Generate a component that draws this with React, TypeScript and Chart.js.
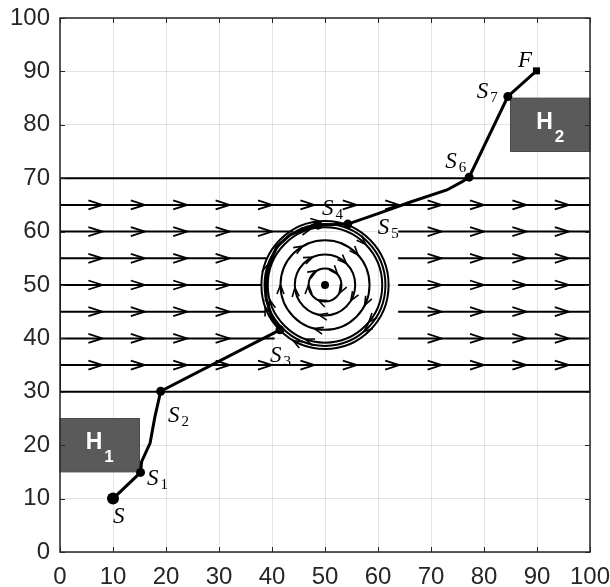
import React, { useEffect, useRef } from 'react';
import { Chart, registerables } from 'chart.js';

Chart.register(...registerables);

// ---------- data ----------
const xTickValues = [0, 10, 20, 30, 40, 50, 60, 70, 80, 90, 100];
const yTickValues = [0, 10, 20, 30, 40, 50, 60, 70, 80, 90, 100];

// trajectory
const pathX = [10, 15.2, 15.4, 17, 17.9, 19, 41.5, 39.9, 39.0, 38.9, 39.3, 40.9, 43.4, 46.5, 48.7, 54.3, 60.4, 66, 73, 75.8, 77.2, 84.5, 89.9];
const pathY = [10, 14.9, 16.9, 20.4, 25.3, 30.1, 41.6, 44.1, 47.2, 50, 53.4, 57.2, 59.4, 60.6, 61.2, 61.4, 63.5, 65.5, 67.8, 69.3, 70.2, 85.3, 90.1];

// waypoints
const waypointNames = ['S', 'S', 'S', 'S', 'S', 'S', 'S', 'S', 'F'];
const waypointSubs = ['', '1', '2', '3', '4', '5', '6', '7', ''];
const waypointX = [10, 15.2, 19, 41.5, 48.7, 54.3, 77.2, 84.5, 89.9];
const waypointY = [10, 14.9, 30.1, 41.6, 61.2, 61.4, 70.2, 85.3, 90.1];

// channel
const channelX = [0, 100, 100, 0, 0];
const channelY = [30, 30, 70, 70, 30];

// streamlines
const streamRowsY = [35, 40, 45, 50, 55, 60, 65];
const streamLeftEnd = [100, 40.5, 38.7, 38, 39, 44, 100];
const streamRightStart = [null, 63.8, 63.8, 63.8, 63.8, 63.8, null];
const streamArrowX = [8, 16, 24, 32, 40, 48, 56, 64, 72, 80, 88, 96];

// vortex
const vortexCenterX = [50];
const vortexCenterY = [50];
const vortexRadii = [3.1, 5.7, 8.4, 10.8, 11.4, 12.0];
const vortexArrowAngles = [
  [120, 40, 180, -30, 245],
  [114, 45, 185, -31, 258],
  [120, 42, 180, -27, 256],
  [105, 45, 195, -40, 250],
  [-50, 160],
  [95, 200, 240],
];

// obstacles
const obstacleNames = ['H', 'H'];
const obstacleSubs = ['1', '2'];
const obstacleX0 = [0, 85];
const obstacleX1 = [15, 100];
const obstacleY0 = [15, 75];
const obstacleY1 = [25, 85];

// ---------- styles ----------
const labelDx = [0, 6.4, 7.3, -10, 4, 30, -24, -31, -18.5];
const labelDy = [24.5, 12.6, 30.7, 32, -10, 10, -9, 1.5, -4];
const AXIS_COLOR = '#262626';
const TICK_FONT = 'Liberation Sans';

function drawV(ctx: CanvasRenderingContext2D, tx: number, ty: number, dx: number, dy: number, len: number, half: number) {
  const n = Math.hypot(dx, dy) || 1;
  const ux = dx / n, uy = dy / n;
  const bx = tx - ux * len, by = ty - uy * len;
  const qx = -uy, qy = ux;
  ctx.beginPath();
  ctx.moveTo(bx + qx * half, by + qy * half);
  ctx.lineTo(tx, ty);
  ctx.lineTo(bx - qx * half, by - qy * half);
  ctx.stroke();
}

const decorPlugin = {
  id: 'decor',
  beforeDatasetsDraw(chart: any) {
    const { ctx } = chart;
    const xs = chart.scales.x, ys = chart.scales.y;
    const px = (v: number) => xs.getPixelForValue(v);
    const py = (v: number) => ys.getPixelForValue(v);
    ctx.save();
    // obstacles
    for (let i = 0; i < obstacleNames.length; i++) {
      const l = px(obstacleX0[i]), r = px(obstacleX1[i]);
      const t = py(obstacleY1[i]), b = py(obstacleY0[i]);
      ctx.fillStyle = '#5a5a5a';
      ctx.fillRect(l, t, r - l, b - t);
      ctx.strokeStyle = '#4a4a4a';
      ctx.lineWidth = 1;
      ctx.strokeRect(l, t, r - l, b - t);
      const cx = (l + r) / 2, cy = (t + b) / 2;
      ctx.fillStyle = '#ffffff';
      ctx.textBaseline = 'alphabetic';
      ctx.textAlign = 'left';
      ctx.font = `bold 23px "${TICK_FONT}"`;
      const hx = cx - 14;
      ctx.fillText(obstacleNames[i], hx, cy + 4);
      const w = ctx.measureText(obstacleNames[i]).width;
      ctx.font = `bold 17px "${TICK_FONT}"`;
      ctx.fillText(obstacleSubs[i], hx + w + 2, cy + 17);
    }
    // vortex circles
    const ux = px(1) - px(0), uy = py(0) - py(1);
    const ccx = px(vortexCenterX[0]), ccy = py(vortexCenterY[0]);
    ctx.strokeStyle = '#000';
    ctx.lineWidth = 2;
    for (const r of vortexRadii) {
      ctx.beginPath();
      ctx.ellipse(ccx, ccy, r * ux, r * uy, 0, 0, Math.PI * 2);
      ctx.stroke();
    }
    ctx.lineWidth = 1.6;
    vortexRadii.forEach((r, i) => {
      for (const a of vortexArrowAngles[i]) {
        const th = (a * Math.PI) / 180;
        const tx = ccx + r * ux * Math.cos(th);
        const ty = ccy - r * uy * Math.sin(th);
        drawV(ctx, tx, ty, Math.sin(th), Math.cos(th), 9, 3.5);
      }
    });
    // streamline arrows
    ctx.lineWidth = 1.8;
    streamRowsY.forEach((yv, i) => {
      for (const ax of streamArrowX) {
        const inLeft = ax <= streamLeftEnd[i] - 1;
        const rs = streamRightStart[i];
        const inRight = rs !== null && ax >= (rs as number) + 3;
        if (inLeft || inRight) drawV(ctx, px(ax), py(yv), 1, 0, 14, 4.5);
      }
    });
    ctx.restore();
  },
  afterDatasetsDraw(chart: any) {
    const { ctx } = chart;
    const xs = chart.scales.x, ys = chart.scales.y;
    ctx.save();
    ctx.fillStyle = '#000';
    ctx.textAlign = 'left';
    ctx.textBaseline = 'alphabetic';
    for (let i = 0; i < waypointNames.length; i++) {
      const x0 = xs.getPixelForValue(waypointX[i]) + labelDx[i];
      const y0 = ys.getPixelForValue(waypointY[i]) + labelDy[i];
      ctx.font = 'italic 23px "Liberation Serif"';
      ctx.fillText(waypointNames[i], x0, y0);
      if (waypointSubs[i]) {
        const w = ctx.measureText(waypointNames[i]).width;
        ctx.font = '15px "Liberation Serif"';
        ctx.fillText(waypointSubs[i], x0 + w + 2, y0 + 4);
      }
    }
    ctx.restore();
  },
  afterDraw(chart: any) {
    const { ctx, chartArea } = chart;
    const xs = chart.scales.x, ys = chart.scales.y;
    const { left, right, top, bottom } = chartArea;
    ctx.save();
    ctx.strokeStyle = AXIS_COLOR;
    ctx.lineWidth = 1.5;
    ctx.strokeRect(left, top, right - left, bottom - top);
    ctx.lineWidth = 1;
    ctx.beginPath();
    for (const v of xTickValues) {
      const p = Math.round(xs.getPixelForValue(v)) + 0.5;
      ctx.moveTo(p, bottom); ctx.lineTo(p, bottom - 5);
      ctx.moveTo(p, top); ctx.lineTo(p, top + 5);
    }
    for (const v of yTickValues) {
      const p = Math.round(ys.getPixelForValue(v)) + 0.5;
      ctx.moveTo(left, p); ctx.lineTo(left + 5, p);
      ctx.moveTo(right, p); ctx.lineTo(right - 5, p);
    }
    ctx.stroke();
    ctx.restore();
  },
};

export default function App() {
  const canvasRef = useRef<HTMLCanvasElement | null>(null);

  useEffect(() => {
    const canvas = canvasRef.current;
    if (!canvas) return;

    const datasets: any[] = [];
    datasets.push({
      label: 'waypoints',
      data: waypointX.map((x, i) => ({ x, y: waypointY[i] })),
      showLine: false,
      pointRadius: waypointX.map((_, i) => (i === 0 ? 6 : i === waypointX.length - 1 ? 5 : 4.5)),
      pointStyle: waypointX.map((_, i) => (i === waypointX.length - 1 ? 'rect' : 'circle')),
      backgroundColor: '#000',
      borderColor: '#000',
      borderWidth: 0,
      order: -2,
    });
    datasets.push({
      label: 'center',
      data: vortexCenterX.map((x, i) => ({ x, y: vortexCenterY[i] })),
      showLine: false,
      pointRadius: 4,
      backgroundColor: '#000',
      borderWidth: 0,
      order: -2,
    });
    datasets.push({
      label: 'path',
      data: pathX.map((x, i) => ({ x, y: pathY[i] })),
      showLine: true,
      borderColor: '#000',
      borderWidth: 3,
      pointRadius: 0,
      tension: 0,
      order: -1,
    });
    datasets.push({
      label: 'channel',
      data: channelX.map((x, i) => ({ x, y: channelY[i] })),
      showLine: true,
      borderColor: '#000',
      borderWidth: 2,
      pointRadius: 0,
      order: 1,
    });
    streamRowsY.forEach((yv, i) => {
      datasets.push({
        label: 'stream-left-' + i,
        data: [{ x: 0, y: yv }, { x: streamLeftEnd[i], y: yv }],
        showLine: true,
        borderColor: '#000',
        borderWidth: 2,
        pointRadius: 0,
        order: 2,
      });
      const rs = streamRightStart[i];
      if (rs !== null) {
        datasets.push({
          label: 'stream-right-' + i,
          data: [{ x: rs, y: yv }, { x: 100, y: yv }],
          showLine: true,
          borderColor: '#000',
          borderWidth: 2,
          pointRadius: 0,
          order: 2,
        });
      }
    });

    const tickFont = { family: TICK_FONT, size: 24 };
    const chart = new Chart(canvas, {
      type: 'scatter',
      data: { datasets },
      plugins: [decorPlugin],
      options: {
        animation: false,
        responsive: false,
        layout: { padding: { left: 0, top: 18, right: 20, bottom: 0 } },
        plugins: { legend: { display: false }, tooltip: { enabled: false } },
        scales: {
          x: {
            type: 'linear',
            min: 0,
            max: 100,
            afterFit: (s: any) => { s.height = 35; s.paddingLeft = 0; s.paddingRight = 0; },
            afterBuildTicks: (s: any) => { s.ticks = xTickValues.map((v) => ({ value: v })); },
            ticks: { font: tickFont, color: AXIS_COLOR, padding: 11, maxRotation: 0, autoSkip: false },
            grid: { color: 'rgba(38,38,38,0.13)', drawTicks: false, lineWidth: 1 },
            border: { display: false },
          },
          y: {
            type: 'linear',
            min: 0,
            max: 100,
            afterFit: (s: any) => { s.width = 60; s.paddingTop = 0; s.paddingBottom = 0; },
            afterBuildTicks: (s: any) => { s.ticks = yTickValues.map((v) => ({ value: v })); },
            ticks: { font: tickFont, color: AXIS_COLOR, padding: 10, autoSkip: false },
            grid: { color: 'rgba(38,38,38,0.13)', drawTicks: false, lineWidth: 1 },
            border: { display: false },
          },
        },
      },
    });
    return () => chart.destroy();
  }, []);

  return (
    <div style={{ position: 'absolute', left: 0, top: 0, width: 610, height: 587, background: '#fff' }}>
      <canvas ref={canvasRef} width={610} height={587} style={{ display: 'block' }} />
    </div>
  );
}
